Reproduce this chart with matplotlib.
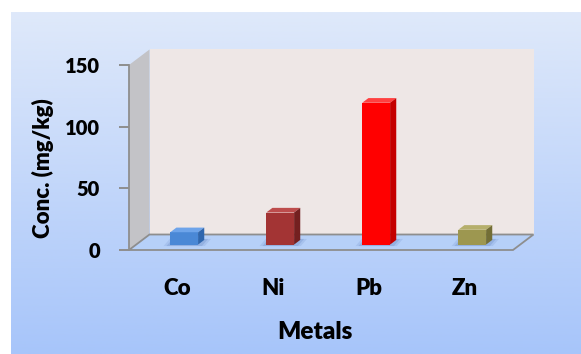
import numpy as np
import matplotlib
matplotlib.use("Agg")
import matplotlib.pyplot as plt
from matplotlib.patches import Polygon
from matplotlib.colors import LinearSegmentedColormap

# Data
metals = ["Co", "Ni", "Pb", "Zn"]
conc = [10, 26, 115, 12]
y_ticks = [0, 50, 100, 150]

# Bar face colours (front / side / top)
front_colors = ["#4a88d6", "#a33434", "#ff0000", "#9d9750"]
side_colors = ["#2f66ad", "#742020", "#c40000", "#736e36"]
top_colors = ["#6ea4ea", "#bd4c4c", "#ff4040", "#b5af6c"]

FONT = "Lato"
WEIGHT = 800
W, H = 581, 354
fig = plt.figure(figsize=(W / 100, H / 100), dpi=100)
fig.patch.set_facecolor("white")

# Chart area: vertical blue gradient
bg = fig.add_axes([11 / W, 0, 1 - 11 / W, 1 - 12 / H])
grad = np.linspace(0, 1, 256).reshape(-1, 1)
bg_cmap = LinearSegmentedColormap.from_list("bg", ["#dfe9fa", "#a7c5fa"])
bg.imshow(grad, aspect="auto", cmap=bg_cmap, extent=[0, 1, 0, 1], origin="upper")
bg.axis("off")

# Front plane of the 3-D box (pixel box of the plot)
L, R, T, B = 129, 513, 65, 250
ax = fig.add_axes([L / W, 1 - B / H, (R - L) / W, (B - T) / H])
ax.set_xlim(-0.5, 3.5)
ax.set_ylim(0, 150)
ax.patch.set_visible(False)

# depth offset of the box in data units
DX = 20.5 / ((R - L) / 4)
DY = 15.5 / ((B - T) / 150)
x_lo, x_hi, y_top = -0.5, 3.5, 150

# walls and floor
back = Polygon([(x_lo + DX, DY), (x_hi + DX, DY), (x_hi + DX, y_top + DY), (x_lo + DX, y_top + DY)],
               closed=True, fc="#eee7e6", ec="none", clip_on=False, zorder=0)
side = Polygon([(x_lo, 0), (x_lo + DX, DY), (x_lo + DX, y_top + DY), (x_lo, y_top)],
               closed=True, fc="#c3c3c7", ec="none", clip_on=False, zorder=0)
floor = Polygon([(x_lo, 0), (x_hi, 0), (x_hi + DX, DY), (x_lo + DX, DY)],
                closed=True, fc="#b6d0f8", ec="#8e8e8e", lw=1.3, clip_on=False, zorder=1)
for p in (back, side, floor):
    ax.add_patch(p)

# bars: placed at mid depth
w = 0.29
bd = 0.3
xs = np.arange(len(metals)) + DX * (0.5 - bd / 2)
b0 = DY * (0.5 - bd / 2)
ddx, ddy = bd * DX, bd * DY

# soft shadow on the floor around each bar base
for x in xs:
    for k, a in ((0.07, 0.12), (0.04, 0.18)):
        shadow = Polygon([(x - w / 2 - k, b0 - 1.2), (x + w / 2 + k, b0 - 1.2),
                          (x + w / 2 + ddx + k, b0 + ddy + 0.8), (x - w / 2 + ddx - k, b0 + ddy + 0.8)],
                         closed=True, fc="#3e64a8", ec="none", alpha=a, clip_on=False, zorder=2)
        ax.add_patch(shadow)

ax.bar(xs, conc, width=w, bottom=b0, color=front_colors, zorder=3, clip_on=False)
for x, v, sc, tc in zip(xs, conc, side_colors, top_colors):
    top = Polygon([(x - w / 2, b0 + v), (x + w / 2, b0 + v),
                   (x + w / 2 + ddx, b0 + v + ddy), (x - w / 2 + ddx, b0 + v + ddy)],
                  closed=True, fc=tc, ec="none", clip_on=False, zorder=3)
    rside = Polygon([(x + w / 2, b0), (x + w / 2 + ddx, b0 + ddy),
                     (x + w / 2 + ddx, b0 + v + ddy), (x + w / 2, b0 + v)],
                    closed=True, fc=sc, ec="none", clip_on=False, zorder=3)
    ax.add_patch(top)
    ax.add_patch(rside)

# axes styling
for s in ("top", "right", "bottom"):
    ax.spines[s].set_visible(False)
ax.spines["left"].set_color("#8e8e8e")
ax.spines["left"].set_linewidth(1.3)
ax.spines["left"].set_zorder(2)

ax.set_yticks(y_ticks)
ax.set_yticklabels([str(t) for t in y_ticks], fontfamily=FONT, fontweight=WEIGHT, fontsize=14.5)
ax.tick_params(axis="y", length=7, width=1.4, color="#8e8e8e", pad=14)

ax.set_xticks(range(len(metals)))
ax.set_xticklabels(metals, fontfamily=FONT, fontweight=WEIGHT, fontsize=16)
ax.tick_params(axis="x", length=0, pad=20)

ax.set_xlabel("Metals", fontfamily=FONT, fontweight=WEIGHT, fontsize=17.5)
ax.xaxis.set_label_coords(0.484, -0.443)
ax.xaxis.label.set_va("center")

ax.set_ylabel("Conc. (mg/kg)", fontfamily=FONT, fontweight=WEIGHT, fontsize=16)
ax.yaxis.set_label_coords(-0.224, 0.443)
ax.yaxis.label.set_va("center")
ax.yaxis.label.set_ha("center")

fig.savefig("out.png", dpi=100)
